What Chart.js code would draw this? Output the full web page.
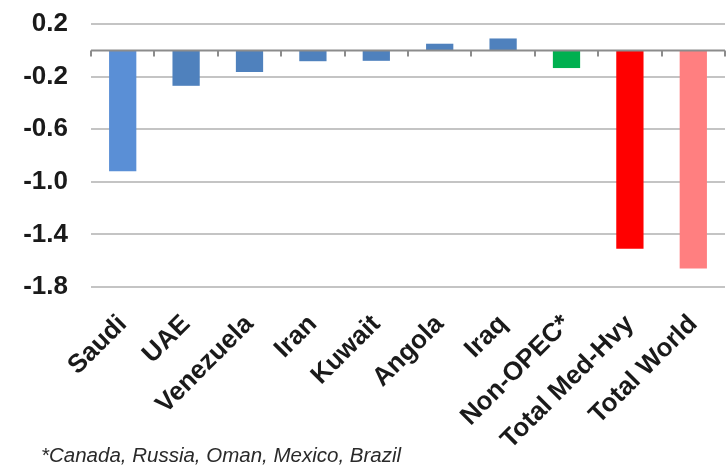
<!DOCTYPE html>
<html>
<head>
<meta charset="utf-8">
<script src="https://cdn.jsdelivr.net/npm/chart.js@4/dist/chart.umd.min.js"></script>
<style>
	html, body { margin: 0; padding: 0; background: #fff; }
	#wrap { position: relative; width: 726px; height: 470px; overflow: hidden; }
	#note {
		position: absolute; left: 41px; top: 443px;
		font: italic 20.5px "Liberation Sans", Arial, sans-serif; color: #2a2a2a;
	}
</style>
</head>
<body>
<div id="wrap">
	<canvas id="chart" width="726" height="470"></canvas>
	<div id="note">*Canada, Russia, Oman, Mexico, Brazil</div>
</div>
<script>
var categories = ['Saudi', 'UAE', 'Venezuela', 'Iran', 'Kuwait', 'Angola', 'Iraq', 'Non-OPEC*', 'Total Med-Hvy', 'Total World'];
var changes = [-0.92, -0.27, -0.165, -0.083, -0.08, 0.05, 0.09, -0.135, -1.51, -1.66];
var barColors = ['#5A8FD6', '#4F81BD', '#4F81BD', '#4F81BD', '#4F81BD', '#4F81BD', '#4F81BD', '#00B050', '#FF0000', '#FF7F80'];
var yTicks = [0.2, -0.2, -0.6, -1.0, -1.4, -1.8];

// zero line with small tick marks at category boundaries
var zeroLine = {
	id: 'zeroLine',
	afterDatasetsDraw: function (chart) {
		var ctx = chart.ctx;
		var y0 = Math.round(chart.scales.y.getPixelForValue(0)) + 0.5;
		var left = chart.chartArea.left;
		var right = chart.chartArea.right;
		var step = (right - left) / categories.length;
		ctx.save();
		ctx.strokeStyle = '#8c8c8c';
		ctx.lineWidth = 2;
		ctx.beginPath();
		ctx.moveTo(left, y0);
		ctx.lineTo(right, y0);
		for (var i = 0; i <= categories.length; i++) {
			var px = Math.round(left + i * step);
			ctx.moveTo(px, y0);
			ctx.lineTo(px, y0 + 6);
		}
		ctx.stroke();
		ctx.restore();
	}
};

new Chart(document.getElementById('chart'), {
	type: 'bar',
	data: {
		labels: categories,
		datasets: [{
			data: changes,
			backgroundColor: barColors,
			borderWidth: 0,
			categoryPercentage: 1,
			barPercentage: 0.43
		}]
	},
	options: {
		responsive: false,
		animation: false,
		layout: { padding: { top: 24, right: 1, bottom: 0, left: 0 } },
		plugins: {
			legend: { display: false },
			tooltip: { enabled: false }
		},
		scales: {
			x: {
				grid: { display: false },
				border: { display: false },
				ticks: {
					maxRotation: 45,
					minRotation: 45,
					autoSkip: false,
					color: '#1a1a1a',
					padding: 14,
					font: { family: '"Liberation Sans", Arial, sans-serif', size: 26, weight: 'bold' }
				},
				afterFit: function (scale) {
					scale.height = 183;
					scale.paddingRight = 0;
				}
			},
			y: {
				min: -1.8,
				max: 0.2,
				afterBuildTicks: function (scale) {
					scale.ticks = yTicks.map(function (v) {
						return { value: v };
					});
				},
				// invisible tick marks keep the labels away from the plot
				grid: { color: '#c4c4c4', lineWidth: 2, tickLength: 23, tickColor: 'rgba(0,0,0,0)' },
				border: { display: false },
				ticks: {
					padding: 0,
					color: '#1a1a1a',
					font: { family: '"Liberation Sans", Arial, sans-serif', size: 26, weight: 'bold' },
					callback: function (value) {
						return Number(value).toFixed(1);
					}
				},
				afterFit: function (scale) {
					scale.width = 91;
				}
			}
		}
	},
	plugins: [zeroLine]
});
</script>
</body>
</html>
